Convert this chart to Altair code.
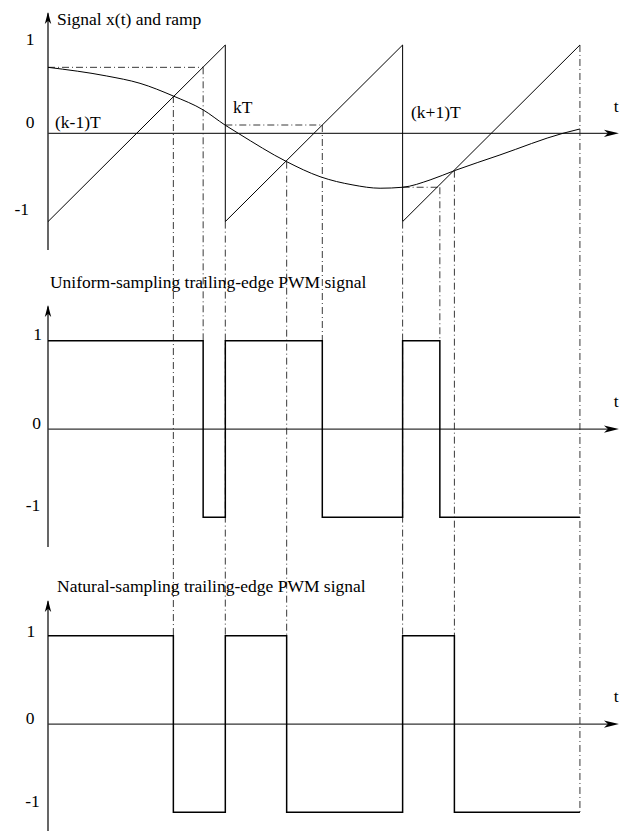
import altair as alt
import pandas as pd

# ---------------- data ----------------
# time in units of T, values in signal units
ramp_t = [0, 1, 1, 2, 2, 3]
ramp_v = [-1, 1, -1, 1, -1, 1]

sig_t = [0.0, 0.331, 0.519, 0.707, 0.876, 0.998, 1.073, 1.346, 1.534, 1.720, 1.873, 2.0, 2.155, 2.292, 2.549, 2.904, 3.0]
sig_v = [0.747, 0.649, 0.566, 0.422, 0.264, 0.094, 0.0, -0.321, -0.491, -0.585, -0.622, -0.611, -0.528, -0.423, -0.245, 0.0, 0.049]

# sample-and-hold values at the period starts
hold_t0 = [0, 1, 2]
hold_v = [0.747, 0.094, -0.611]
# uniform sampling edges (ramp meets held value)
uni_edge = [0.875, 1.547, 2.21]
# natural sampling edges (ramp meets signal)
nat_edge = [0.707, 1.346, 2.292]

uni_t = [0, 0.875, 1, 1.547, 2, 2.21, 3]
uni_v = [1, -1, 1, -1, 1, -1, -1]
nat_t = [0, 0.707, 1, 1.346, 2, 2.292, 3]
nat_v = [1, -1, 1, -1, 1, -1, -1]

tick_labels = ["1", "0", "-1"]
tick_values = [1, 0, -1]

titles = ["Signal x(t) and ramp",
          "Uniform-sampling trailing-edge PWM signal",
          "Natural-sampling trailing-edge PWM signal"]
period_labels = ["(k-1)T", "kT", "(k+1)T"]

# vertical offsets of the three panels
OFF_TOP, OFF_UNI, OFF_NAT = 0.0, -3.349, -6.690

# ---------------- scales ----------------
X = dict(scale=alt.Scale(domain=[-0.2256, 3.226], nice=False, zero=False), axis=None)
Y = dict(scale=alt.Scale(domain=[-7.901, 1.419], nice=False, zero=False), axis=None)
FONT = "Liberation Serif"
FS = 17.5
DASH = [7, 3, 1, 3]

def xq(f="t"):
    return alt.X(f"{f}:Q", **X)

def yq(f="v"):
    return alt.Y(f"{f}:Q", **Y)

layers = []

# axes: vertical
vax = pd.DataFrame({"t": [0, 0, 0], "v": [1.36, -1.96, -5.30], "v2": [-1.322, -4.685, -7.98]})
layers.append(alt.Chart(vax).mark_rule(color="black", strokeWidth=1.2).encode(x=xq(), y=yq(), y2="v2:Q"))
# axes: horizontal
hax = pd.DataFrame({"t": [0, 0, 0], "t2": [3.19, 3.19, 3.19], "v": [OFF_TOP, OFF_UNI, OFF_NAT]})
layers.append(alt.Chart(hax).mark_rule(color="#333", strokeWidth=1.2).encode(x=xq(), x2="t2:Q", y=yq()))
# arrowheads
up = pd.DataFrame({"t": [0, 0, 0], "v": [1.374, -1.944, -5.285]})
layers.append(alt.Chart(up).mark_point(shape="M0,0L0.4,1.5L0,1.1L-0.4,1.5Z", filled=True, size=256,
                                       color="black", opacity=1, strokeWidth=0).encode(x=xq(), y=yq()))
rt = pd.DataFrame({"t": [3.22, 3.22, 3.22], "v": [OFF_TOP, OFF_UNI, OFF_NAT]})
layers.append(alt.Chart(rt).mark_point(shape="M0,0L-1.5,-0.36L-1.1,0L-1.5,0.36Z", filled=True, size=400,
                                       color="black", opacity=1, strokeWidth=0).encode(x=xq(), y=yq()))

# vertical dash-dot guide lines
NAT1 = 1 + OFF_NAT
UNI1 = 1 + OFF_UNI
guide_t, guide_v, guide_v2 = [], [], []
for e, s in zip(nat_edge, [sig_v[3], sig_v[7], sig_v[13]]):
    guide_t.append(e); guide_v.append(s); guide_v2.append(NAT1)
for e, h in zip(uni_edge, hold_v):
    guide_t.append(e); guide_v.append(h); guide_v2.append(UNI1)
for k in [1, 2]:
    guide_t.append(k); guide_v.append(-1); guide_v2.append(NAT1)
guide_t.append(3); guide_v.append(1); guide_v2.append(-1 + OFF_NAT)
guides = pd.DataFrame({"t": guide_t, "v": guide_v, "v2": guide_v2})
layers.append(alt.Chart(guides).mark_rule(color="#222", strokeWidth=0.9, strokeDash=DASH)
              .encode(x=xq(), y=yq(), y2="v2:Q"))

# horizontal hold lines
holds = pd.DataFrame({"t": hold_t0, "t2": uni_edge, "v": hold_v})
layers.append(alt.Chart(holds).mark_rule(color="#222", strokeWidth=0.9, strokeDash=DASH)
              .encode(x=xq(), x2="t2:Q", y=yq()))

# ramp
ramp = pd.DataFrame({"t": ramp_t, "v": ramp_v, "i": range(len(ramp_t))})
layers.append(alt.Chart(ramp).mark_line(color="black", strokeWidth=1)
              .encode(x=xq(), y=yq(), order="i:Q"))

# signal
sig = pd.DataFrame({"t": sig_t, "v": sig_v})
layers.append(alt.Chart(sig).mark_line(color="black", strokeWidth=1, interpolate="monotone")
              .encode(x=xq(), y=yq()))

# PWM signals
uni = pd.DataFrame({"t": uni_t, "v": [v + OFF_UNI for v in uni_v]})
layers.append(alt.Chart(uni).mark_line(color="black", strokeWidth=1.5, interpolate="step-after")
              .encode(x=xq(), y=yq()))
nat = pd.DataFrame({"t": nat_t, "v": [v + OFF_NAT for v in nat_v]})
layers.append(alt.Chart(nat).mark_line(color="black", strokeWidth=1.5, interpolate="step-after")
              .encode(x=xq(), y=yq()))

# tick labels
tk = pd.DataFrame({
    "label": tick_labels * 3,
    "t": [-0.1015, -0.1015, -0.148, -0.059, -0.064, -0.085, -0.096, -0.1015, -0.087],
    "v": [1.057, 0.117, -0.869, -2.284, -3.292, -4.221, -5.647, -6.633, -7.573],
})
layers.append(alt.Chart(tk).mark_text(font=FONT, fontSize=FS, color="black", align="center", baseline="middle")
              .encode(x=xq(), y=yq(), text="label:N"))

# left-aligned texts
lt = pd.DataFrame({
    "label": titles + period_labels,
    "t": [0.0508, 0.011, 0.051, 0.0395, 1.043, 2.047],
    "v": [1.285, -1.695, -5.138, 0.117, 0.287, 0.23],
})
layers.append(alt.Chart(lt).mark_text(font=FONT, fontSize=FS, color="black", align="left", baseline="middle")
              .encode(x=xq(), y=yq(), text="label:N"))

# axis "t" labels
tl = pd.DataFrame({"label": ["t", "t", "t"], "t": [3.205, 3.205, 3.205], "v": [0.298, -3.043, -6.384]})
layers.append(alt.Chart(tl).mark_text(font=FONT, fontSize=FS, color="black", align="center", baseline="middle")
              .encode(x=xq(), y=yq(), text="label:N"))

chart = alt.layer(*layers).properties(
    width=612, height=823, padding=0,
    autosize=alt.AutoSizeParams(type="none"),
).configure_view(stroke=None)

chart.save("out.html", embed_options={"renderer": "svg", "actions": False})
